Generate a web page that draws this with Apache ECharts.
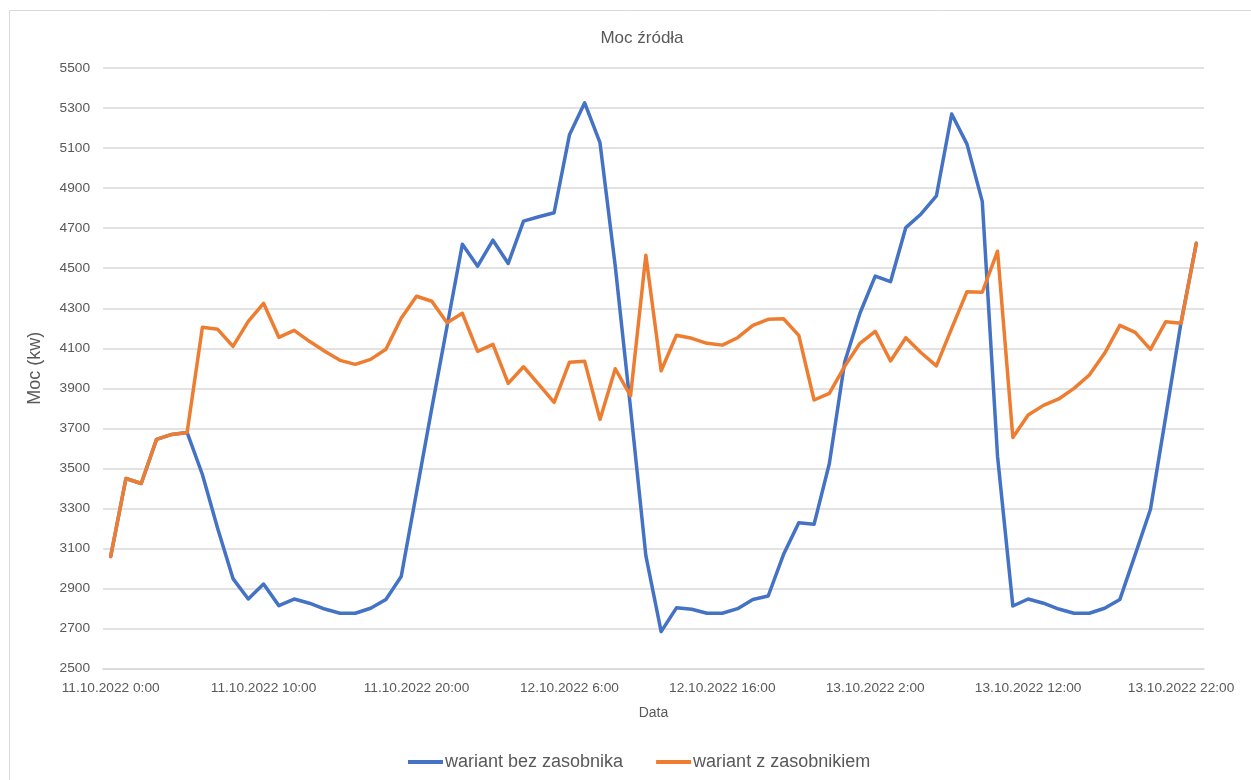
<!DOCTYPE html>
<html>
<head>
<meta charset="utf-8">
<title>Moc źródła</title>
<script src="https://cdn.jsdelivr.net/npm/echarts@6/dist/echarts.min.js"></script>
<style>
  html, body { margin: 0; padding: 0; background: #ffffff; }
  #chart { width: 1251px; height: 780px; }
</style>
</head>
<body>
<div id="chart"></div>
<script>
// Hourly timestamps, 11.10.2022 0:00 – 13.10.2022 23:00
const days = ['11.10.2022', '12.10.2022', '13.10.2022'];
const hours = [0, 1, 2, 3, 4, 5, 6, 7, 8, 9, 10, 11, 12, 13, 14, 15, 16, 17, 18, 19, 20, 21, 22, 23];
const categories = [];
days.forEach(d => hours.forEach(h => categories.push(d + ' ' + h + ':00')));

// Source power, kW
const bezZasobnika = [
  3060, 3450, 3425, 3645, 3670, 3680, 3470, 3200, 2950, 2848,
  2923, 2815, 2848, 2827, 2798, 2777, 2777, 2802, 2846, 2960,
  3380, 3800, 4210, 4620, 4510, 4640, 4524, 4735, 4757, 4777,
  5165, 5326, 5127, 4510, 3800, 3065, 2685, 2804, 2797, 2777,
  2777, 2800, 2846, 2863, 3070, 3229, 3221, 3525, 4030, 4275,
  4461, 4433, 4703, 4771, 4861, 5270, 5120, 4834, 3560, 2813,
  2848, 2827, 2798, 2777, 2777, 2802, 2846, 3070, 3296, 3760,
  4230, 4625
];
const zZasobnikiem = [
  3060, 3450, 3425, 3645, 3670, 3680, 4205, 4195, 4110, 4235,
  4325, 4155, 4190, 4135, 4085, 4040, 4020, 4045, 4095, 4250,
  4360, 4335, 4228, 4275, 4085, 4120, 3925, 4008, 3920, 3830,
  4030, 4035, 3745, 3998, 3863, 4565, 3988, 4165, 4150, 4125,
  4116, 4153, 4215, 4245, 4248, 4165, 3842, 3875, 4010, 4125,
  4185, 4037, 4153, 4078, 4012, 4200, 4383, 4380, 4585, 3655,
  3767, 3815, 3847, 3900, 3967, 4075, 4215, 4180, 4095, 4233,
  4225, 4625
];

const seriesNames = ['wariant bez zasobnika', 'wariant z zasobnikiem'];
const textColor = '#595959';
const gridColor = '#d9d9d9';
const font = 'Liberation Sans, Arial, sans-serif';

const chart = echarts.init(document.getElementById('chart'), null, { renderer: 'canvas' });

chart.setOption({
  backgroundColor: '#ffffff',
  animation: false,
  textStyle: { fontFamily: font },
  graphic: [{
    type: 'rect',
    shape: { x: 9.5, y: 10.5, width: 1300, height: 800 },
    style: { fill: 'none', stroke: gridColor, lineWidth: 1 },
    silent: true
  }],
  title: {
    text: 'Moc źródła',
    left: 637,
    top: 25,
    textAlign: 'center',
    textStyle: { color: textColor, fontSize: 17, fontWeight: 'normal', fontFamily: font }
  },
  legend: {
    data: seriesNames,
    left: 408,
    top: 753,
    padding: 0,
    icon: 'rect',
    itemWidth: 35,
    itemHeight: 4,
    itemGap: 33,
    textStyle: { color: textColor, fontSize: 18, fontFamily: font, padding: [0, 0, 0, -3] }
  },
  grid: { left: 103, right: 47, top: 68, bottom: 111.3, containLabel: false },
  xAxis: {
    type: 'category',
    data: categories,
    boundaryGap: true,
    name: 'Data',
    nameLocation: 'middle',
    nameGap: 37,
    nameTextStyle: { color: textColor, fontSize: 14, fontFamily: font },
    axisLine: { lineStyle: { color: gridColor, width: 1.5 } },
    axisTick: { show: false },
    axisLabel: { interval: 9, color: textColor, fontSize: 13.7, margin: 13, fontFamily: font }
  },
  yAxis: {
    type: 'value',
    min: 2500,
    max: 5500,
    interval: 200,
    name: 'Moc (kw)',
    nameLocation: 'middle',
    nameGap: 59,
    nameTextStyle: { color: textColor, fontSize: 18, fontFamily: font },
    axisLine: { show: false },
    axisTick: { show: false },
    axisLabel: {
      color: textColor, fontSize: 13.7, margin: 13, fontFamily: font,
      formatter: v => String(v)
    },
    splitLine: { lineStyle: { color: gridColor, width: 1.5 } }
  },
  series: [
    {
      name: seriesNames[0],
      type: 'line',
      data: bezZasobnika,
      symbol: 'none',
      lineStyle: { color: '#4472C4', width: 3.5, join: 'round', cap: 'round' },
      itemStyle: { color: '#4472C4' }
    },
    {
      name: seriesNames[1],
      type: 'line',
      data: zZasobnikiem,
      symbol: 'none',
      lineStyle: { color: '#ED7D31', width: 3.5, join: 'round', cap: 'round' },
      itemStyle: { color: '#ED7D31' }
    }
  ]
});
</script>
</body>
</html>
